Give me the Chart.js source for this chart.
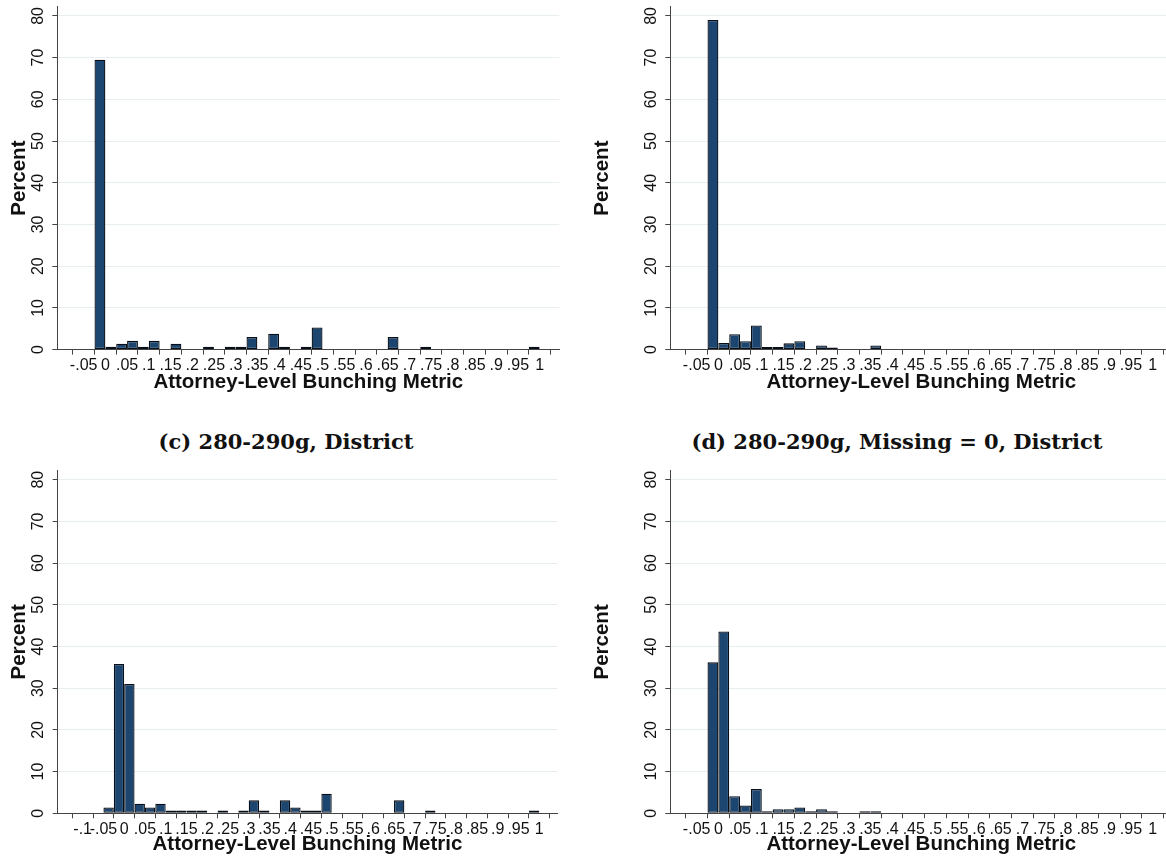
<!DOCTYPE html>
<html>
<head>
<meta charset="utf-8">
<script src="https://cdn.jsdelivr.net/npm/chart.js@4.4.0/dist/chart.umd.min.js"></script>
<style>
  html, body { margin: 0; padding: 0; background: #fff; overflow: hidden; width: 1166px; height: 862px; }
  .panel { position: absolute; }
  .cap { position: absolute; font-family: "DejaVu Serif", serif; font-weight: bold; font-size: 21px;
         color: #111; white-space: nowrap; transform: translate(-50%, -50%); }
</style>
</head>
<body>
<div class="panel" style="left:0;top:0"><canvas id="chartA" width="583" height="400"></canvas></div>
<div class="panel" style="left:583px;top:0"><canvas id="chartB" width="610" height="400"></canvas></div>
<div class="cap" style="left:286px;top:441px">(c) 280-290g, District</div>
<div class="cap" style="left:897px;top:441px">(d) 280-290g, Missing = 0, District</div>
<div class="panel" style="left:0;top:420px"><canvas id="chartC" width="583" height="442"></canvas></div>
<div class="panel" style="left:583px;top:420px"><canvas id="chartD" width="610" height="442"></canvas></div>

<script>
// histogram bins are .025 wide, running from -.05 to 1 (bin centres)
const binCenters = [-0.0375, -0.0125, 0.0125, 0.0375, 0.0625, 0.0875, 0.1125, 0.1375, 0.1625, 0.1875,
  0.2125, 0.2375, 0.2625, 0.2875, 0.3125, 0.3375, 0.3625, 0.3875, 0.4125, 0.4375,
  0.4625, 0.4875, 0.5125, 0.5375, 0.5625, 0.5875, 0.6125, 0.6375, 0.6625, 0.6875,
  0.7125, 0.7375, 0.7625, 0.7875, 0.8125, 0.8375, 0.8625, 0.8875, 0.9125, 0.9375,
  0.9625, 0.9875];

// percent in each bin, one list per panel
const pctTopLeft = [0, 69.5, 0.7, 1.4, 2.1, 0.7, 2.1, 0, 1.4, 0,
  0, 0.7, 0, 0.7, 0.7, 3.0, 0, 3.8, 0.7, 0,
  0.7, 5.3, 0, 0, 0, 0, 0, 0, 3.0, 0,
  0, 0.7, 0, 0, 0, 0, 0, 0, 0, 0,
  0, 0.7];
const pctTopRight = [0, 79.0, 1.6, 3.7, 2.0, 5.8, 0.6, 0.6, 1.5, 2.0,
  0, 1.0, 0.5, 0, 0, 0, 1.0, 0, 0, 0,
  0, 0, 0, 0, 0, 0, 0, 0, 0, 0,
  0, 0, 0, 0, 0, 0, 0, 0, 0, 0,
  0, 0];
const pctDistrict = [1.4, 35.8, 31.0, 2.3, 1.4, 2.3, 0.7, 0.7, 0.7, 0.7,
  0, 0.7, 0, 0.7, 3.1, 0.7, 0, 3.1, 1.4, 0.7,
  0.7, 4.7, 0, 0, 0, 0, 0, 0, 3.1, 0,
  0, 0.7, 0, 0, 0, 0, 0, 0, 0, 0,
  0, 0.7];
const pctDistrictMissing0 = [0, 36.2, 43.6, 4.1, 1.9, 5.8, 0.5, 1.0, 1.0, 1.4,
  0.5, 1.0, 0.5, 0, 0, 0.5, 0.5, 0, 0, 0,
  0, 0, 0, 0, 0, 0, 0, 0, 0, 0,
  0, 0, 0, 0, 0, 0, 0, 0, 0, 0,
  0, 0];

// tick labels
const xTicks = [-0.05, 0, 0.05, 0.1, 0.15, 0.2, 0.25, 0.3, 0.35, 0.4, 0.45, 0.5,
  0.55, 0.6, 0.65, 0.7, 0.75, 0.8, 0.85, 0.9, 0.95, 1];
const xTicksWide = [-0.1, -0.05, 0, 0.05, 0.1, 0.15, 0.2, 0.25, 0.3, 0.35, 0.4, 0.45, 0.5,
  0.55, 0.6, 0.65, 0.7, 0.75, 0.8, 0.85, 0.9, 0.95, 1];
const yTicks = [0, 10, 20, 30, 40, 50, 60, 70, 80];

const xTitle = "Attorney-Level Bunching Metric";
const yTitle = "Percent";

Chart.defaults.font.family = '"Liberation Sans", Arial, sans-serif';
Chart.defaults.color = "#111";

// Stata style labels: drop the leading zero
let fmtTick = (v) => {
    if (v === 0) return "0";
    if (v === 1) return "1";
    return String(v).replace("0.", ".");
};

// Build one histogram panel; box = where the plot region sits inside the canvas
let makeHistogram = (id, values, ticks, xMin, xMax, box) => {
    const canvas = document.getElementById(id);
    const W = canvas.width, H = canvas.height;
    const points = binCenters.map((c, i) => ({ x: c, y: values[i] }));

    return new Chart(canvas.getContext("2d"), {
        type: "bar",
        data: {
            datasets: [{
                data: points,
                backgroundColor: "#1c4670",
                borderColor: "#080f18",
                borderWidth: 1.3,
                borderSkipped: false,
                inflateAmount: 0,
                barPercentage: 1,
                categoryPercentage: 1
            }]
        },
        options: {
            responsive: false,
            animation: false,
            events: [],
            layout: { padding: { left: 0, top: box.top, right: W - box.right, bottom: 0 } },
            plugins: { legend: { display: false }, tooltip: { enabled: false } },
            scales: {
                x: {
                    type: "linear",
                    min: xMin,
                    max: xMax,
                    afterBuildTicks: (s) => { s.ticks = ticks.map(v => ({ value: v })); },
                    afterFit: (s) => { s.height = H - box.bottom; s.paddingLeft = 0; s.paddingRight = 0; },
                    grid: { drawOnChartArea: false, drawTicks: true, tickLength: 5, tickColor: "#444" },
                    border: { color: "#444", width: 1 },
                    ticks: {
                        autoSkip: false, maxRotation: 0, minRotation: 0, padding: 1.5,
                        font: { size: 16 },
                        callback: (v) => fmtTick(v)
                    },
                    title: {
                        display: true, text: xTitle, color: "#111",
                        font: { size: 20.5, weight: "bold" },
                        padding: { top: 0, bottom: 5 }
                    }
                },
                y: {
                    min: 0,
                    max: 82.2,
                    afterBuildTicks: (s) => { s.ticks = yTicks.map(v => ({ value: v })); },
                    afterFit: (s) => { s.width = box.left; s.paddingTop = 0; s.paddingBottom = 0; },
                    grid: { color: "#e6eef0", lineWidth: 1, drawTicks: true, tickLength: 5, tickColor: "#444" },
                    border: { color: "#444", width: 1 },
                    ticks: {
                        minRotation: 90, maxRotation: 90, crossAlign: "center", padding: 5,
                        font: { size: 16 },
                        callback: (v) => String(v)
                    },
                    title: {
                        display: true, text: yTitle, color: "#111",
                        font: { size: 20.5, weight: "bold" },
                        padding: { top: 7.5, bottom: 0 }
                    }
                }
            }
        }
    });
};

makeHistogram("chartA", pctTopLeft, xTicks, -0.0844, 1.019, { left: 57.3, right: 559.3, top: 6.7, bottom: 349.6 });
makeHistogram("chartB", pctTopRight, xTicks, -0.0844, 1.019, { left: 87.3, right: 589.3, top: 6.7, bottom: 349.6 });
makeHistogram("chartC", pctDistrict, xTicksWide, -0.134, 1.017, { left: 57.7, right: 557.2, top: 50.5, bottom: 393.3 });
makeHistogram("chartD", pctDistrictMissing0, xTicks, -0.0844, 1.019, { left: 87.3, right: 589.3, top: 50.5, bottom: 393.3 });
</script>
</body>
</html>
